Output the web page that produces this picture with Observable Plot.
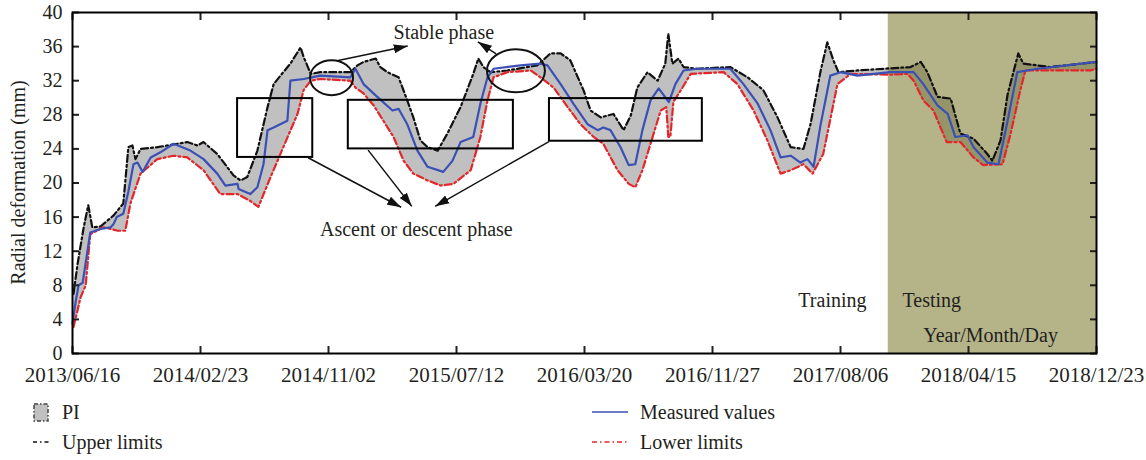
<!DOCTYPE html>
<html><head><meta charset="utf-8">
<script src="https://cdn.jsdelivr.net/npm/d3@7"></script>
<script src="https://cdn.jsdelivr.net/npm/@observablehq/plot@0.6"></script>
<style>
body{margin:0;background:#fff;font-family:"Liberation Serif",serif;}
#wrap{position:relative;width:1146px;height:460px;overflow:hidden;}
.lt{position:absolute;font-size:20px;line-height:20px;color:#231f20;white-space:nowrap;}
#legsw{position:absolute;left:0;top:392px;}
</style></head><body>
<div id="wrap"><div id="chart"></div>
<svg id="legsw" width="1146" height="68"></svg>
<div class="lt" style="left:62px;top:402px">PI</div>
<div class="lt" style="left:62px;top:432px">Upper limits</div>
<div class="lt" style="left:640px;top:402px">Measured values</div>
<div class="lt" style="left:640px;top:432px">Lower limits</div>
</div>
<script>
// ---------- data ----------
const startLabel = "2013/06/16";
const testingStartLabel = "2017/11/08";
const xTickLabels = ["2013/06/16","2014/02/23","2014/11/02","2015/07/12","2016/03/20","2016/11/27","2017/08/06","2018/04/15","2018/12/23"];
const yTicks = [0,4,8,12,16,20,24,28,32,36,40];

// day offsets from 2013/06/16
const measuredDay = [0,6,12,20,35,55,75,81,87,100,110,120,128,138,154,173,199,232,258,285,301,325,327,350,364,376,384,396,423,429,455,488,547,557,573,600,630,642,659,679,699,730,748,764,789,803,817,829,882,921,935,961,986,1014,1034,1045,1059,1079,1095,1108,1122,1138,1154,1174,1187,1203,1230,1295,1321,1349,1374,1394,1414,1433,1447,1459,1473,1492,1512,1545,1610,1656,1675,1703,1723,1738,1762,1774,1801,1823,1841,1860,1900,2016];
const measuredVal = [3.5,6.0,8.0,8.3,14.2,14.6,14.8,15.2,16.0,16.4,19.0,22.2,22.4,21.3,23.0,23.6,24.6,23.8,22.8,21.1,19.7,19.9,19.3,18.7,19.5,22.2,26.2,26.5,27.3,32.0,32.2,32.6,32.4,33.4,31.6,30.1,28.5,28.7,26.9,23.8,21.9,21.3,22.6,24.8,25.4,29.3,32.4,33.4,33.8,34.0,33.8,31.6,29.3,26.9,26.2,26.5,26.2,24.2,22.1,22.2,26.2,29.7,31.1,29.5,31.6,33.2,33.4,33.4,31.6,29.3,26.2,23.0,23.2,22.4,22.8,21.9,26.9,32.6,33.0,32.6,33.0,33.0,31.6,29.1,28.1,25.4,25.6,24.2,22.4,22.2,27.3,33.0,33.4,34.2];

const upperDay = [2,10,22,31,39,55,81,100,110,118,124,134,167,226,246,258,285,317,331,344,364,384,396,415,429,449,455,469,488,547,561,573,597,606,620,642,659,671,685,699,719,738,764,789,799,809,823,856,915,941,961,980,1006,1020,1040,1065,1085,1099,1112,1132,1152,1167,1173,1181,1193,1203,1230,1295,1329,1360,1388,1414,1439,1453,1473,1486,1498,1508,1545,1597,1650,1670,1683,1703,1729,1748,1774,1801,1811,1827,1841,1862,1872,1925,2016];
const upperVal = [7.0,10.5,14.8,17.4,14.8,14.9,16.2,17.6,24.2,24.4,22.8,24.0,24.2,24.8,24.4,24.8,23.4,20.9,20.3,20.7,23.8,28.9,31.6,33.0,34.0,35.9,34.8,32.8,33.0,33.0,33.8,34.2,34.6,33.6,33.0,32.4,29.7,27.7,25.0,24.2,23.8,25.8,28.9,32.8,34.6,33.6,33.0,33.2,33.8,35.2,35.2,34.4,30.9,28.5,27.7,28.1,26.2,27.9,31.2,33.0,32.0,34.0,37.5,34.0,34.6,33.6,33.4,33.6,32.4,30.9,27.7,24.2,24.0,26.9,33.2,36.5,34.4,33.0,33.2,33.4,33.6,34.2,33.0,30.1,29.9,25.8,25.2,23.4,22.6,25.0,30.4,35.2,34.0,33.6,34.2];

const lowerDay = [2,16,26,35,61,89,104,114,134,167,199,226,258,291,325,350,366,390,415,443,455,469,488,547,557,573,593,612,632,652,671,699,725,750,784,803,817,829,856,902,921,947,975,1000,1026,1045,1073,1095,1108,1122,1138,1158,1169,1173,1177,1183,1201,1217,1282,1309,1341,1368,1394,1414,1439,1457,1478,1506,1532,1610,1644,1656,1675,1695,1721,1748,1774,1793,1831,1847,1866,1876,1925,2004,2016];
const lowerVal = [3.1,6.6,8.0,14.0,14.8,14.4,14.4,17.6,21.1,22.8,23.2,23.0,21.5,18.7,18.7,17.9,17.2,20.7,24.2,28.1,30.9,32.0,32.2,32.0,31.2,30.5,29.1,27.3,25.4,22.6,21.1,20.3,19.7,19.9,21.5,25.4,29.7,32.4,33.0,33.2,32.4,31.2,28.9,26.9,25.4,24.6,21.5,19.9,19.5,21.5,24.6,28.5,28.9,25.4,25.4,29.5,31.2,32.8,33.0,31.6,28.5,25.0,21.1,21.5,22.2,21.1,23.4,31.6,32.8,32.7,32.8,32.0,29.7,28.5,24.8,24.8,23.0,22.1,22.2,25.8,30.9,33.2,33.2,33.2,33.4];

// annotations (day offset, value)
const boxNotes = [{d1:325,d2:473,v1:23.0,v2:29.9},{d1:543,d2:868,v1:24.0,v2:29.7},{d1:939,d2:1240,v1:24.9,v2:29.9}];
const centerNotes = [{day:731,value:37.7,text:"Stable phase"},{day:677,value:14.5,text:"Ascent or descent phase"}];
const startNotes = [{day:1429,value:6.15,text:"Training"},{day:1634,value:6.15,text:"Testing"},{day:1675,value:2.08,text:"Year/Month/Day"}];
const ellipseNotes = [{day:511,value:32.3,rx:21.5,ry:17.5},{day:874,value:33.1,rx:29,ry:21.5}];
const arrowNotes = [{d1:524,v1:34.3,d2:661,v2:36.0},{d1:835,v1:35.1,d2:799,v2:36.5},{d1:465,v1:22.9,d2:648,v2:17.1},{d1:583,v1:23.8,d2:669,v2:17.2},{d1:939,v1:24.8,d2:715,v2:17.2}];

// ---------- build ----------
const parse = d3.utcParse("%Y/%m/%d");
const t0 = parse(startLabel);
const toDate = d => d3.utcDay.offset(t0, d);
const mk = (days, vals) => days.map((d, i) => ({date: toDate(d), value: vals[i]}));
const measured = mk(measuredDay, measuredVal);
const upper = mk(upperDay, upperVal);
const lower = mk(lowerDay, lowerVal);
const band = upper.concat(lower.slice().reverse());
const xTicks = xTickLabels.map(parse);
const xDomain = [xTicks[0], xTicks[xTicks.length - 1]];
const testing = [{x1: parse(testingStartLabel), x2: xDomain[1], y1: 0, y2: 40}];
const boxes = boxNotes.map(b => ({x1: toDate(b.d1), x2: toDate(b.d2), y1: b.v1, y2: b.v2}));
const cNotes = centerNotes.map(n => ({date: toDate(n.day), value: n.value, text: n.text}));
const sNotes = startNotes.map(n => ({date: toDate(n.day), value: n.value, text: n.text}));
const blank = () => "";
const dash = "7,3,2,3";

const plot = Plot.plot({
  width: 1146, height: 392,
  marginLeft: 72, marginRight: 50, marginTop: 12, marginBottom: 39,
  style: {fontFamily: '"Liberation Serif", serif', fontSize: "20px", color: "#231f20", background: "#fff", overflow: "visible"},
  x: {type: "utc", domain: xDomain},
  y: {domain: [0, 40]},
  marks: [
    Plot.line(band, {x: "date", y: "value", fill: "#c0c0c0", stroke: "none"}),
    Plot.rect(testing, {x1: "x1", x2: "x2", y1: "y1", y2: "y2", fill: "rgb(107,105,19)", fillOpacity: 0.5}),
    Plot.line(upper, {x: "date", y: "value", stroke: "#111", strokeWidth: 2.2, strokeDasharray: dash}),
    Plot.line(lower, {x: "date", y: "value", stroke: "#e3262a", strokeWidth: 2.2, strokeDasharray: dash}),
    Plot.line(measured, {x: "date", y: "value", stroke: "#3a50b4", strokeWidth: 2.2}),
    Plot.rect(boxes, {x1: "x1", x2: "x2", y1: "y1", y2: "y2", fill: "none", stroke: "black", strokeWidth: 2}),
    Plot.text(cNotes, {x: "date", y: "value", text: "text", textAnchor: "middle", fontSize: 20, fill: "#231f20"}),
    Plot.text(sNotes, {x: "date", y: "value", text: "text", textAnchor: "start", fontSize: 20, fill: "#231f20"}),
    Plot.axisY({anchor: "left", ticks: yTicks, tickSize: 0, tickPadding: 10, label: null, fontSize: 20}),
    Plot.axisY({anchor: "left", ticks: yTicks, tickSize: 7, dx: 7, tickFormat: blank, label: null, strokeWidth: 2}),
    Plot.axisY({anchor: "right", ticks: yTicks, tickSize: 7, dx: -7, tickFormat: blank, label: null, strokeWidth: 2}),
    Plot.axisX({anchor: "bottom", ticks: xTicks, tickSize: 0, tickPadding: 14, tickFormat: d3.utcFormat("%Y/%m/%d"), label: null, fontSize: 21}),
    Plot.axisX({anchor: "bottom", ticks: xTicks, tickSize: 7, dy: -7, tickFormat: blank, label: null, strokeWidth: 2}),
    Plot.axisX({anchor: "top", ticks: xTicks, tickSize: 7, dy: 7, tickFormat: blank, label: null, strokeWidth: 2}),
    Plot.frame({stroke: "black", strokeWidth: 2})
  ]
});
document.getElementById("chart").appendChild(plot);

// extra annotations drawn with the plot's scales
const sx = plot.scale("x"), sy = plot.scale("y");
const svg = d3.select(plot);
svg.append("defs").append("marker")
  .attr("id", "ah").attr("viewBox", "0 -5 14 10").attr("refX", 14).attr("refY", 0)
  .attr("markerWidth", 14).attr("markerHeight", 10).attr("markerUnits", "userSpaceOnUse")
  .attr("orient", "auto")
  .append("path").attr("d", "M0,-4.5L14,0L0,4.5Z").attr("fill", "#111");
const ann = svg.append("g");
ellipseNotes.forEach(e => {
  ann.append("ellipse").attr("cx", sx.apply(toDate(e.day))).attr("cy", sy.apply(e.value))
    .attr("rx", e.rx).attr("ry", e.ry).attr("fill", "none").attr("stroke", "#111").attr("stroke-width", 2);
});
arrowNotes.forEach(a => {
  ann.append("line")
    .attr("x1", sx.apply(toDate(a.d1))).attr("y1", sy.apply(a.v1))
    .attr("x2", sx.apply(toDate(a.d2))).attr("y2", sy.apply(a.v2))
    .attr("stroke", "#111").attr("stroke-width", 1.5).attr("marker-end", "url(#ah)");
});
svg.append("text").attr("transform", "translate(18,182.5) rotate(-90)")
  .attr("text-anchor", "middle").attr("dominant-baseline", "central")
  .attr("font-size", 20).attr("fill", "#231f20").text("Radial deformation (mm)");

// legend swatches
const lg = d3.select("#legsw");
lg.append("rect").attr("x", 34).attr("y", 12).attr("width", 14).attr("height", 17)
  .attr("fill", "#c0c0c0").attr("stroke", "#444").attr("stroke-width", 1.5).attr("stroke-dasharray", "4,2,1.5,2");
lg.append("line").attr("x1", 33).attr("x2", 49).attr("y1", 50).attr("y2", 50)
  .attr("stroke", "#111").attr("stroke-width", 1.5).attr("stroke-dasharray", "4,3,1.5,3");
lg.append("line").attr("x1", 592).attr("x2", 628).attr("y1", 20).attr("y2", 20)
  .attr("stroke", "#3a50b4").attr("stroke-width", 1.5);
lg.append("line").attr("x1", 592).attr("x2", 628).attr("y1", 50).attr("y2", 50)
  .attr("stroke", "#e3262a").attr("stroke-width", 1.5).attr("stroke-dasharray", "5,3,1.5,3");
</script>
</body></html>
